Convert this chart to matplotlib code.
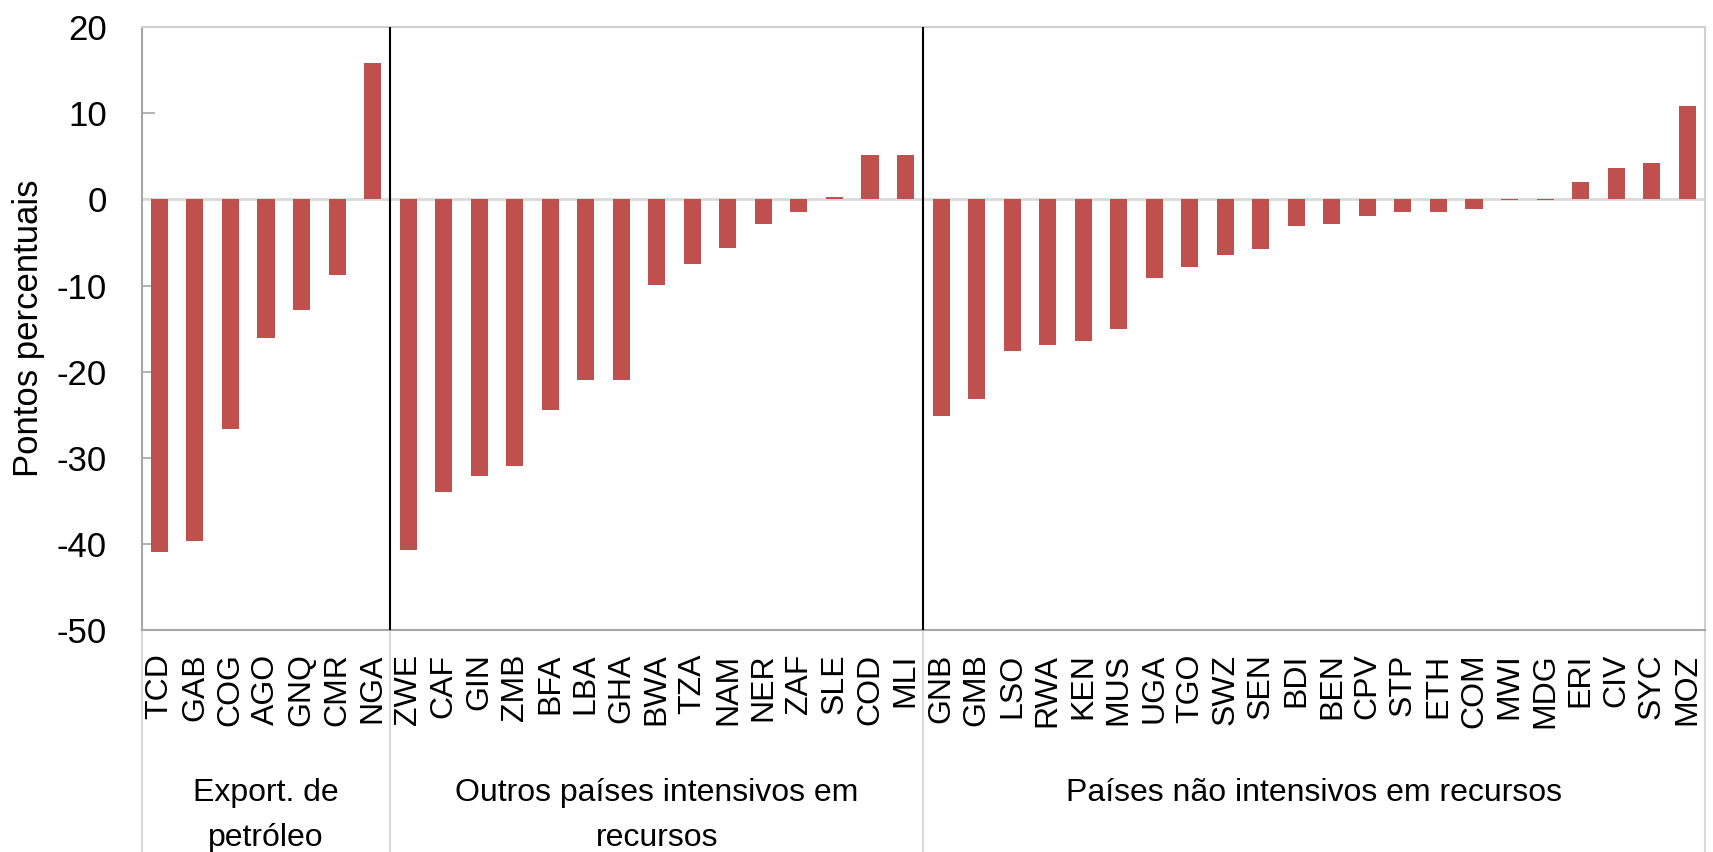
import numpy as np
import matplotlib.pyplot as plt
from matplotlib.transforms import blended_transform_factory

plt.rcParams["font.family"] = ["Liberation Sans", "DejaVu Sans"]
plt.rcParams["axes.unicode_minus"] = False

# group names (multi-level category axis)
group_names = ["Export. de\npetróleo", "Outros países intensivos em\nrecursos",
               "Países não intensivos em recursos"]

oil_codes = ["TCD", "GAB", "COG", "AGO", "GNQ", "CMR", "NGA"]
oil_vals = [-40.9, -39.7, -26.7, -16.1, -12.8, -8.8, 15.9]

other_codes = ["ZWE", "CAF", "GIN", "ZMB", "BFA", "LBA", "GHA", "BWA", "TZA",
               "NAM", "NER", "ZAF", "SLE", "COD", "MLI"]
other_vals = [-40.7, -34.0, -32.1, -31.0, -24.4, -21.0, -21.0, -9.9, -7.5,
              -5.6, -2.9, -1.4, 0.3, 5.2, 5.2]

nonres_codes = ["GNB", "GMB", "LSO", "RWA", "KEN", "MUS", "UGA", "TGO", "SWZ",
                "SEN", "BDI", "BEN", "CPV", "STP", "ETH", "COM", "MWI", "MDG",
                "ERI", "CIV", "SYC", "MOZ"]
nonres_vals = [-25.2, -23.2, -17.6, -16.9, -16.4, -15.1, -9.1, -7.8, -6.5,
               -5.8, -3.1, -2.9, -1.9, -1.4, -1.4, -1.1, -0.1, -0.1,
               2.0, 3.7, 4.2, 10.8]

codes = oil_codes + other_codes + nonres_codes
values = oil_vals + other_vals + nonres_vals
group_sizes = [len(oil_codes), len(other_codes), len(nonres_codes)]
x = np.arange(len(codes))

fig = plt.figure(figsize=(17.13, 8.52), dpi=100)
ax = fig.add_axes([0.0827, 0.2606, 0.9126, 0.7074])

ax.bar(x, values, width=0.48, color="#C0504D", zorder=3)
ax.axhline(0, color="#D9D9D9", lw=2, zorder=2)

ax.set_xlim(-0.5, len(codes) - 0.5)
ax.set_ylim(-50, 20)
ax.set_yticks(range(-50, 21, 10))
ax.tick_params(axis="y", direction="in", length=9, width=1.2,
               color="#A6A6A6", labelsize=25, pad=25)
ax.set_xticks(x)
ax.set_xticklabels(codes, rotation=90, fontsize=23)
ax.tick_params(axis="x", length=0, pad=17)

for side in ["left", "bottom"]:
    ax.spines[side].set_color("#A6A6A6")
    ax.spines[side].set_linewidth(1.5)
for side in ["top", "right"]:
    ax.spines[side].set_color("#D0D0D0")
    ax.spines[side].set_linewidth(1.5)

fig.text(29 / 1713, 1 - 328 / 852, "Pontos percentuais", rotation=90,
         ha="center", va="center", fontsize=25)

# group boundaries and labels
trans = blended_transform_factory(ax.transData, ax.transAxes)
bounds = np.concatenate([[0], np.cumsum(group_sizes)]) - 0.5
for b in bounds:
    ax.plot([b, b], [0, -0.5], transform=trans, color="#D9D9D9", lw=1.5,
            clip_on=False)
for b in bounds[1:-1]:
    ax.axvline(b, color="black", lw=1.5, zorder=4)
for name, lo, hi in zip(group_names, bounds[:-1], bounds[1:]):
    ax.text((lo + hi) / 2, -0.245, name, transform=trans, ha="center",
            va="top", fontsize=23, linespacing=1.65)

fig.savefig("out.png", dpi=100)
